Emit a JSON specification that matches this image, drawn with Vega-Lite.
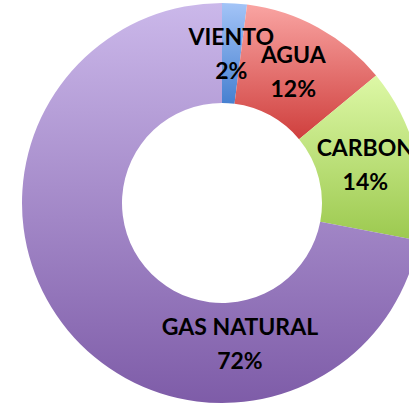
{
  "$schema": "https://vega.github.io/schema/vega-lite/v6.json",
  "width": 444,
  "height": 406,
  "padding": 0,
  "autosize": "none",
  "background": "white",
  "config": {"view": {"stroke": null}},
  "data": {"values": [
    {"fuente": "VIENTO", "orden": 1, "pct": 0.02},
    {"fuente": "AGUA", "orden": 2, "pct": 0.12},
    {"fuente": "CARBON", "orden": 3, "pct": 0.14},
    {"fuente": "GAS NATURAL", "orden": 4, "pct": 0.72}
  ]},
  "layer": [
    {
      "transform": [
        {"stack": "pct", "groupby": [], "sort": [{"field": "orden"}], "as": ["t0", "t1"]},
        {"filter": "datum.fuente == 'VIENTO'"}
      ],
      "mark": {"type": "arc", "innerRadius": 100, "outerRadius": 200,
        "fill": {"gradient": "linear", "x1": 0, "y1": 0, "x2": 0, "y2": 1,
          "stops": [{"offset": 0, "color": "#a3c4f7"}, {"offset": 1, "color": "#4680d0"}]}},
      "encoding": {
        "theta": {"field": "t0", "type": "quantitative", "scale": {"domain": [0, 1]}},
        "theta2": {"field": "t1"}
      }
    },
    {
      "transform": [
        {"stack": "pct", "groupby": [], "sort": [{"field": "orden"}], "as": ["t0", "t1"]},
        {"filter": "datum.fuente == 'AGUA'"}
      ],
      "mark": {"type": "arc", "innerRadius": 100, "outerRadius": 200,
        "fill": {"gradient": "linear", "x1": 0, "y1": 0, "x2": 0, "y2": 1,
          "stops": [{"offset": 0, "color": "#f9a4a2"}, {"offset": 1, "color": "#cf3f3d"}]}},
      "encoding": {
        "theta": {"field": "t0", "type": "quantitative", "scale": {"domain": [0, 1]}},
        "theta2": {"field": "t1"}
      }
    },
    {
      "transform": [
        {"stack": "pct", "groupby": [], "sort": [{"field": "orden"}], "as": ["t0", "t1"]},
        {"filter": "datum.fuente == 'CARBON'"}
      ],
      "mark": {"type": "arc", "innerRadius": 100, "outerRadius": 200,
        "fill": {"gradient": "linear", "x1": 0, "y1": 0, "x2": 0, "y2": 1,
          "stops": [{"offset": 0, "color": "#ddf8a6"}, {"offset": 1, "color": "#9cc94f"}]}},
      "encoding": {
        "theta": {"field": "t0", "type": "quantitative", "scale": {"domain": [0, 1]}},
        "theta2": {"field": "t1"}
      }
    },
    {
      "transform": [
        {"stack": "pct", "groupby": [], "sort": [{"field": "orden"}], "as": ["t0", "t1"]},
        {"filter": "datum.fuente == 'GAS NATURAL'"}
      ],
      "mark": {"type": "arc", "innerRadius": 100, "outerRadius": 200,
        "fill": {"gradient": "linear", "x1": 0, "y1": 0, "x2": 0, "y2": 1,
          "stops": [{"offset": 0, "color": "#cbb8ea"}, {"offset": 1, "color": "#7e5ca8"}]}},
      "encoding": {
        "theta": {"field": "t0", "type": "quantitative", "scale": {"domain": [0, 1]}},
        "theta2": {"field": "t1"}
      }
    },
    {
      "layer": [
        {
          "mark": {"type": "text", "radius": 148, "dy": -17, "font": "Lato", "fontWeight": "bold", "fontSize": 23, "color": "#000000", "baseline": "middle"},
          "encoding": {"text": {"field": "fuente"}, "opacity": {"condition": {"test": "datum.fuente == 'GAS NATURAL'", "value": 0}, "value": 1}}
        },
        {
          "mark": {"type": "text", "radius": 148, "dy": 17, "font": "Lato", "fontWeight": "bold", "fontSize": 23, "color": "#000000", "baseline": "middle"},
          "encoding": {"text": {"field": "pct", "type": "quantitative", "format": ".0%"}, "opacity": {"condition": {"test": "datum.fuente == 'GAS NATURAL'", "value": 0}, "value": 1}}
        }
      ],
      "encoding": {
        "theta": {"field": "pct", "type": "quantitative", "stack": true},
        "order": {"field": "orden", "type": "quantitative"}
      }
    },
    {
      "transform": [{"filter": "datum.fuente == 'GAS NATURAL'"}],
      "mark": {"type": "text", "theta": 3.016, "radius": 143, "dy": -17, "font": "Lato", "fontWeight": "bold", "fontSize": 23, "color": "#000000", "baseline": "middle"},
      "encoding": {"text": {"field": "fuente"}}
    },
    {
      "transform": [{"filter": "datum.fuente == 'GAS NATURAL'"}],
      "mark": {"type": "text", "theta": 3.016, "radius": 143, "dy": 17, "font": "Lato", "fontWeight": "bold", "fontSize": 23, "color": "#000000", "baseline": "middle"},
      "encoding": {"text": {"field": "pct", "type": "quantitative", "format": ".0%"}}
    }
  ]
}
